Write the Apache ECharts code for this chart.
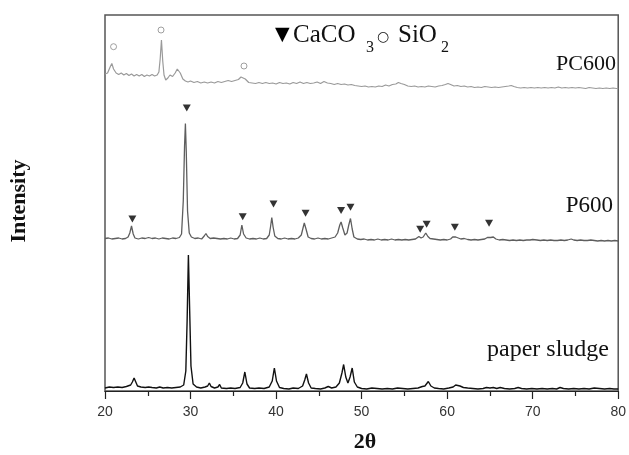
<!DOCTYPE html>
<html>
<head>
<meta charset="utf-8">
<script src="https://cdn.jsdelivr.net/npm/echarts@6/dist/echarts.min.js"></script>
<style>
html,body{margin:0;padding:0;background:#fff;}
#chart{width:629px;height:455px;}
</style>
</head>
<body>
<div id="chart"></div>
<script>
// x axis ticks
const xTicks = [20, 30, 40, 50, 60, 70, 80];

// paper sludge pattern [2theta, intensity (a.u.)]
const sludge = [
[20.0,3],[20.5,4],[21.0,3.5],[21.5,4],[22.0,3.5],[22.5,4.5],[23.0,6],[23.2,9],[23.4,13],[23.6,9],[23.8,5],[24.2,4],[24.7,3.5],[25.1,4],[25.3,6],[25.5,3.5],[26.0,3],[26.4,4],[26.6,5.5],[26.8,3],[27.3,3.5],[27.8,3],[28.3,3.5],[28.8,4],[29.2,6],[29.45,20],[29.6,70],[29.75,136],[29.9,80],[30.05,25],[30.3,7],[30.7,4],[31.2,3],[31.7,4],[32.0,5],[32.2,8],[32.4,4.5],[32.8,3],[33.2,4],[33.4,6.5],[33.6,3],[34.2,2.5],[34.7,3],[35.2,2.5],[35.8,3.5],[36.1,8],[36.35,19],[36.6,7],[36.9,3],[37.5,2.5],[38.0,3],[38.6,2.5],[39.2,4],[39.55,10],[39.8,23],[40.05,10],[40.4,3.5],[40.9,2.5],[41.5,2],[42.0,3],[42.6,2.5],[43.1,5],[43.35,11],[43.55,17],[43.8,8],[44.1,3],[44.6,2.5],[45.2,2],[45.7,3],[46.1,4.5],[46.5,3],[47.0,4],[47.4,8],[47.7,18],[47.9,26.5],[48.15,14],[48.4,8],[48.65,14],[48.9,23],[49.15,9],[49.5,4],[50.0,2.5],[50.6,2],[51.2,3],[51.8,2.5],[52.4,2],[53.0,2.5],[53.6,2],[54.2,3],[54.8,2.5],[55.4,2],[56.0,2.5],[56.6,3],[57.1,4.5],[57.4,5],[57.8,9.5],[58.1,5],[58.5,3],[59.0,2.5],[59.6,2],[60.2,3],[60.7,4],[61.0,6],[61.2,7],[61.5,5],[61.9,3.5],[62.4,3],[63.0,2.5],[63.6,2],[64.2,2.5],[64.6,3.5],[65.0,3],[65.4,3.5],[65.8,2.5],[66.2,3.5],[66.7,2.5],[67.3,2],[67.9,2.5],[68.3,3.5],[68.7,2.5],[69.3,2],[69.9,2.5],[70.5,2],[71.1,2.5],[71.7,2],[72.3,2.5],[72.8,2],[73.2,3.5],[73.6,2.5],[74.2,2],[74.8,2.5],[75.4,2],[76.0,2.5],[76.6,2],[77.2,3],[77.8,2.5],[78.4,2],[79.0,2.5],[79.5,2],[80.0,2]
];

// P600 pattern
const p600 = [
[20.0,152.5],[20.4,153],[20.8,152],[21.2,152.5],[21.6,153],[22.0,152],[22.4,152.5],[22.7,154],[22.9,158],[23.1,165],[23.3,157],[23.5,153],[23.9,152],[24.3,153],[24.7,152.5],[25.1,153.5],[25.5,152.5],[25.9,153],[26.3,152],[26.7,153],[27.1,152.5],[27.5,152],[27.9,153],[28.3,152.5],[28.7,153.5],[28.95,157],[29.15,190],[29.3,245],[29.4,267.5],[29.5,240],[29.65,180],[29.85,158],[30.1,154],[30.5,152.5],[30.9,153],[31.3,152],[31.6,155],[31.8,157.5],[32.0,154.5],[32.3,152.5],[32.7,153],[32.9,155],[33.1,152.5],[33.5,152],[33.9,152.5],[34.3,152],[34.7,153],[35.1,152],[35.5,152.5],[35.8,156],[36.0,166],[36.2,157],[36.5,153],[36.9,152],[37.3,152.5],[37.7,152],[38.1,153],[38.5,152],[38.9,152.5],[39.2,156],[39.35,164],[39.5,173.5],[39.65,164],[39.85,155],[40.2,152.5],[40.6,152],[41.0,153],[41.4,152],[41.8,152.5],[42.2,152],[42.6,153],[42.95,156],[43.15,163],[43.3,168],[43.5,162],[43.75,154],[44.1,152.5],[44.5,152],[44.9,153],[45.3,152],[45.7,152.5],[46.1,152],[46.5,153],[46.9,154],[47.2,158],[47.45,166],[47.6,169],[47.8,163],[48.05,156],[48.3,158],[48.5,166],[48.7,172.5],[48.9,162],[49.1,154],[49.5,152],[49.9,151.5],[50.3,152],[50.7,151],[51.1,151.5],[51.5,151],[51.9,152],[52.3,151],[52.7,151.5],[53.1,151],[53.5,152],[53.9,151],[54.3,151.5],[54.7,151],[55.1,151.5],[55.5,151],[55.9,151.5],[56.3,152],[56.7,154.5],[56.95,153],[57.2,154],[57.5,158],[57.75,154.5],[58.0,152.5],[58.4,152],[58.8,151.5],[59.2,151],[59.6,151.5],[60.0,151],[60.4,152],[60.65,154],[60.8,156],[61.0,154],[61.3,153],[61.6,152],[62.0,152.5],[62.4,151.5],[62.8,151],[63.2,151.5],[63.6,151],[64.0,151.5],[64.4,152],[64.7,153.5],[64.9,155],[65.1,153.5],[65.4,154],[65.7,152],[66.1,151],[66.5,151.5],[66.9,151],[67.3,150.5],[67.7,151],[68.1,150.5],[68.5,151],[68.9,150.5],[69.3,151],[69.7,151],[70.0,151.5],[70.2,152],[70.5,151],[70.9,150.5],[71.3,151],[71.7,150.5],[72.1,151],[72.5,150.5],[72.9,150.5],[73.3,151],[73.7,150.5],[74.1,151],[74.5,152],[74.8,151],[75.2,150.5],[75.6,151],[76.0,150.5],[76.4,150.5],[76.8,151],[77.2,150.5],[77.6,150],[78.0,150.5],[78.4,150],[78.8,150.5],[79.2,150],[79.6,150.5],[80.0,150]
];

// PC600 pattern
const pc600 = [
[20.0,317],[20.3,318],[20.6,324],[20.8,327.5],[21.0,322],[21.3,318],[21.6,316.5],[21.9,318],[22.2,316],[22.5,317.5],[22.8,315.5],[23.1,317],[23.4,315],[23.7,316.5],[24.0,315],[24.3,316.5],[24.6,314.5],[24.9,316],[25.2,315],[25.5,316.5],[25.8,315],[26.1,316],[26.3,319],[26.45,332],[26.6,351],[26.75,330],[26.9,316],[27.1,311],[27.35,313],[27.6,316],[27.9,314.5],[28.2,318],[28.45,322],[28.6,324],[28.8,318],[29.1,312],[29.4,310],[29.7,309],[30.0,310],[30.4,308.5],[30.8,309.5],[31.2,308],[31.6,309],[32.0,308],[32.4,309],[32.8,308],[33.2,309.5],[33.6,308.5],[34.0,309.5],[34.4,310.5],[34.8,309.5],[35.2,310.5],[35.6,311.5],[35.9,314],[36.1,314.5],[36.4,312],[36.8,308.5],[37.2,308],[37.6,307.5],[38.0,308.5],[38.4,307.5],[38.8,308.5],[39.2,307.5],[39.6,308],[40.0,307],[40.4,308.5],[40.8,307.5],[41.2,308],[41.6,307],[42.0,308.5],[42.4,307.5],[42.8,309],[43.2,307.5],[43.6,308.5],[44.0,307.5],[44.4,308],[44.8,309],[45.2,307.5],[45.6,309.5],[46.0,308],[46.4,307.5],[46.8,306.5],[47.2,307.5],[47.6,306.5],[48.0,307],[48.4,306],[48.8,306.5],[49.2,305.5],[49.6,305],[50.0,304.5],[50.4,305],[50.8,304],[51.2,304.5],[51.6,304],[52.0,305],[52.4,304.5],[52.8,306],[53.2,305],[53.6,306.5],[54.0,307],[54.3,308.5],[54.6,307.5],[55.0,306.5],[55.4,305],[55.8,304.5],[56.2,305],[56.6,304],[57.0,304.5],[57.4,304],[57.8,305],[58.2,304.5],[58.6,304],[59.0,305],[59.4,305.5],[59.8,306.5],[60.1,307.5],[60.4,306.5],[60.8,305],[61.2,305.5],[61.6,304.5],[62.0,305],[62.4,304],[62.8,304.5],[63.2,303.5],[63.6,304],[64.0,303.5],[64.4,304.5],[64.8,304],[65.2,303.5],[65.6,304],[66.0,303.5],[66.4,304],[66.8,304.5],[67.2,305],[67.5,305.5],[67.8,304.5],[68.2,303.5],[68.6,303],[69.0,303.5],[69.4,303],[69.8,303.5],[70.2,303],[70.6,303.5],[71.0,303],[71.4,303.5],[71.8,303],[72.2,303.5],[72.6,303],[73.0,304],[73.4,303],[73.8,303.5],[74.2,303],[74.6,303.5],[75.0,303],[75.4,303.5],[75.8,303],[76.2,302.5],[76.6,303.5],[77.0,303],[77.4,302.5],[77.8,303],[78.2,302.5],[78.6,303],[79.0,302.5],[79.4,303],[79.8,302.5],[80.0,302.5]
];

// CaCO3 peak markers (on P600)
const caco3Marks = [
[23.2,172],[29.56,283],[36.1,174.3],[39.7,187],[43.45,177.7],[47.6,180.5],[48.7,183.7],[56.85,161.7],[57.6,166.7],[60.9,163.7],[64.9,167.7]
];

// SiO2 peak markers (on PC600)
const sio2Marks = [
[21.0,344.3],[26.55,361],[36.25,325]
];

const chart = echarts.init(document.getElementById('chart'), null, {renderer:'canvas'});
const serif = '"Liberation Serif","Times New Roman",serif';

chart.setOption({
  animation: false,
  backgroundColor: '#fff',
  grid: {left:105, right:8, top:15, bottom:64, show:true, borderColor:'#555', borderWidth:1.5},
  xAxis: {
    type:'value', min:xTicks[0], max:xTicks[xTicks.length-1], interval:10,
    axisLine:{show:true, onZero:false, lineStyle:{color:'#222', width:1.2}},
    axisTick:{show:true, inside:false, length:8, lineStyle:{color:'#222', width:1.2}},
    minorTick:{show:true, splitNumber:2, length:5, lineStyle:{color:'#222', width:1.2}},
    axisLabel:{fontFamily:'"Liberation Sans", Arial, sans-serif', fontSize:14, color:'#333', margin:14},
    splitLine:{show:false}
  },
  yAxis: {type:'value', min:0, max:376, show:false},
  series: [
    {type:'line', data:sludge, showSymbol:false, lineStyle:{color:'#111', width:1.4}, z:3},
    {type:'line', data:p600, showSymbol:false, lineStyle:{color:'#5e5e5e', width:1.3}, z:3},
    {type:'line', data:pc600, showSymbol:false, lineStyle:{color:'#9a9a9a', width:1.2}, z:3},
    {type:'scatter', data:caco3Marks, symbol:'triangle', symbolRotate:180, symbolSize:[8,7], itemStyle:{color:'#000'}, z:4},
    {type:'scatter', data:sio2Marks, symbol:'circle', symbolSize:6, itemStyle:{color:'#fff', borderColor:'#888', borderWidth:1}, z:4}
  ],
  graphic: [
    {type:'text', x:275, y:35, style:{text:'▼', fontSize:19, fontFamily:'"DejaVu Sans"', fill:'#000', align:'left', verticalAlign:'middle'}},
    {type:'text', x:293, y:35, style:{text:'CaCO', fontSize:25, fontFamily:serif, fill:'#111', align:'left', verticalAlign:'middle'}},
    {type:'text', x:366, y:48, style:{text:'3', fontSize:16, fontFamily:serif, fill:'#111', align:'left', verticalAlign:'middle'}},
    {type:'text', x:377, y:37, style:{text:'○', fontSize:14, fontFamily:'"DejaVu Sans"', fill:'#111', align:'left', verticalAlign:'middle'}},
    {type:'text', x:398, y:35, style:{text:'SiO', fontSize:25, fontFamily:serif, fill:'#111', align:'left', verticalAlign:'middle'}},
    {type:'text', x:441, y:48, style:{text:'2', fontSize:16, fontFamily:serif, fill:'#111', align:'left', verticalAlign:'middle'}},
    {type:'text', x:616, y:64.5, style:{text:'PC600', fontSize:22, fontFamily:serif, fill:'#111', align:'right', verticalAlign:'middle'}},
    {type:'text', x:613, y:206, style:{text:'P600', fontSize:23, fontFamily:serif, fill:'#111', align:'right', verticalAlign:'middle'}},
    {type:'text', x:609, y:350, style:{text:'paper sludge', fontSize:24, fontFamily:serif, fill:'#111', align:'right', verticalAlign:'middle'}},
    {type:'text', x:365, y:442, style:{text:'2θ', fontSize:22, fontWeight:'bold', fontFamily:serif, fill:'#111', align:'center', verticalAlign:'middle'}},
    {type:'text', x:19.5, y:201, rotation:Math.PI/2, style:{text:'Intensity', fontSize:22, fontWeight:'bold', fontFamily:serif, fill:'#111', align:'center', verticalAlign:'middle'}}
  ]
});
</script>
</body>
</html>
